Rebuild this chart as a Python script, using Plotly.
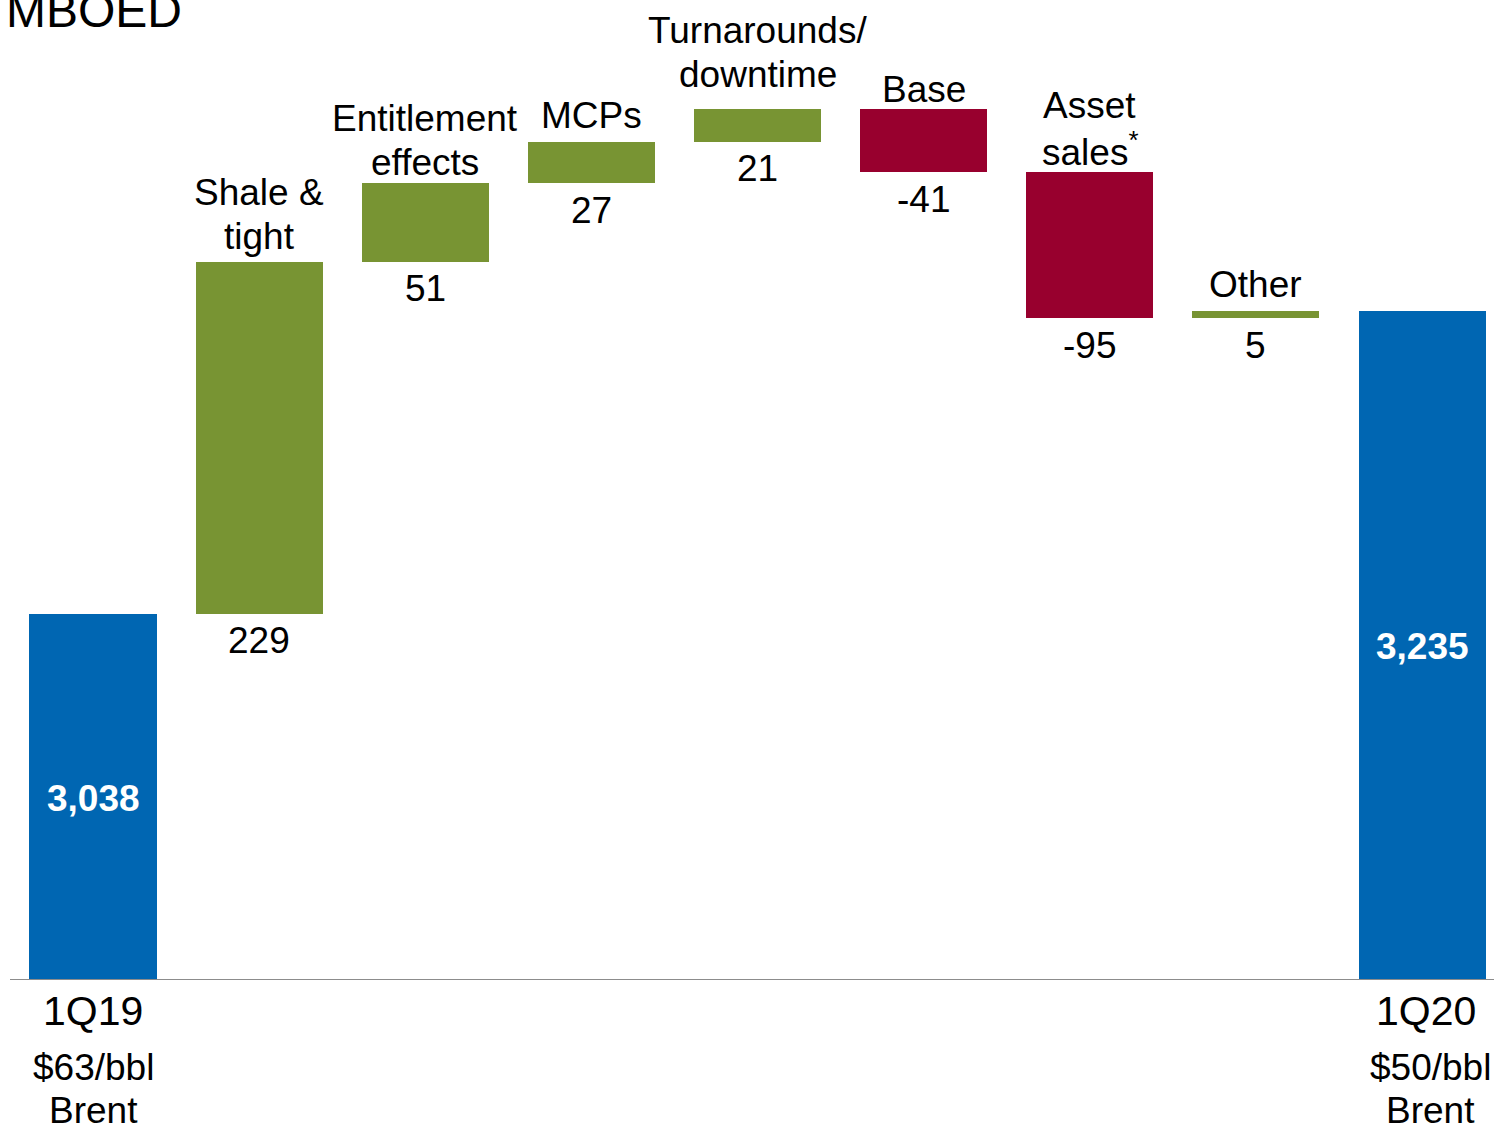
import plotly.graph_objects as go

# Production bridge, MBOED
categories = ["1Q19", "Shale &<br>tight", "Entitlement<br>effects", "MCPs",
              "Turnarounds/<br>downtime", "Base", "Asset<br>sales<sup>*</sup>",
              "Other", "1Q20"]
values = [3038, 229, 51, 27, 21, -41, -95, 5, 3235]
kinds = ["total", "delta", "delta", "delta", "delta", "delta", "delta", "delta", "total"]
value_labels = ["3,038", "229", "51", "27", "21", "-41", "-95", "5", "3,235"]
brent_labels = ["$63/bbl<br>Brent", "", "", "", "", "", "", "", "$50/bbl<br>Brent"]

BLUE = "#0066B2"
GREEN = "#789433"
RED = "#98002E"
FONT = "Arial, Liberation Sans, sans-serif"

# pixel gap between bar top and the last line of each category label
label_gap = [0, 25, 21, 26, 35, 20, 23, 26, 0]
# pixel offset of the white value label below the top of each total bar
total_label_drop = {0: 185, 8: 336}
# small horizontal nudges for the axis captions under the total bars
caption_nudge = {0: (0, 0), 8: (4, 8)}
LINE_STEP = 44

# Bar bottoms / heights for the floating waterfall
bases, heights, colors = [], [], []
running = 0
for v, k in zip(values, kinds):
    if k == "total":
        bases.append(0)
        heights.append(v)
        colors.append(BLUE)
        running = v
    else:
        if v >= 0:
            bases.append(running)
            heights.append(v)
            colors.append(GREEN)
        else:
            bases.append(running + v)
            heights.append(-v)
            colors.append(RED)
        running += v

xs = list(range(len(categories)))

fig = go.Figure(go.Bar(
    x=xs, y=heights, base=bases, marker=dict(color=colors, line=dict(width=0)),
    width=0.765, hoverinfo="skip"))


def text(x, y, s, size, yshift, xshift=0, color="black", yref="y"):
    return dict(x=x, y=y, xref="x", yref=yref, text=s, showarrow=False,
                xanchor="center", yanchor="middle", xshift=xshift, yshift=yshift,
                font=dict(size=size, color=color, family=FONT))


annotations = []
for i, (cat, k) in enumerate(zip(categories, kinds)):
    top = bases[i] + heights[i]
    bottom = bases[i]
    if k == "total":
        annotations.append(text(i, top, "<b>" + value_labels[i] + "</b>", 37,
                                -total_label_drop[i], color="white"))
        dx1, dx2 = caption_nudge[i]
        annotations.append(text(i, 0, cat, 41, -31, xshift=dx1, yref="paper"))
        for j, line in enumerate(brent_labels[i].split("<br>")):
            annotations.append(text(i, 0, line, 37, -87 - 43 * j, xshift=dx2, yref="paper"))
    else:
        lines = cat.split("<br>")
        n = len(lines)
        for j, line in enumerate(lines):
            annotations.append(text(i, top, line, 37, label_gap[i] + LINE_STEP * (n - 1 - j)))
        annotations.append(text(i, bottom, value_labels[i], 37, -27))

annotations.append(dict(x=0, y=1, xref="paper", yref="paper", text="MBOED", showarrow=False,
                        xanchor="left", yanchor="middle", xshift=4, yshift=-10,
                        font=dict(size=48, color="black", family=FONT)))

fig.update_layout(
    width=1494, height=1128,
    margin=dict(l=0, r=0, t=0, b=148),
    plot_bgcolor="white", paper_bgcolor="white",
    showlegend=False,
    bargap=0,
    annotations=annotations,
    xaxis=dict(range=[-0.56, 8.433], visible=False, fixedrange=True),
    yaxis=dict(range=[2800, 3437], visible=False, fixedrange=True),
    shapes=[dict(type="line", xref="paper", yref="y", x0=10 / 1494, x1=1, y0=2800, y1=2800,
                 line=dict(color="#8C8C8C", width=2))],
)

fig.write_html("out.html")
